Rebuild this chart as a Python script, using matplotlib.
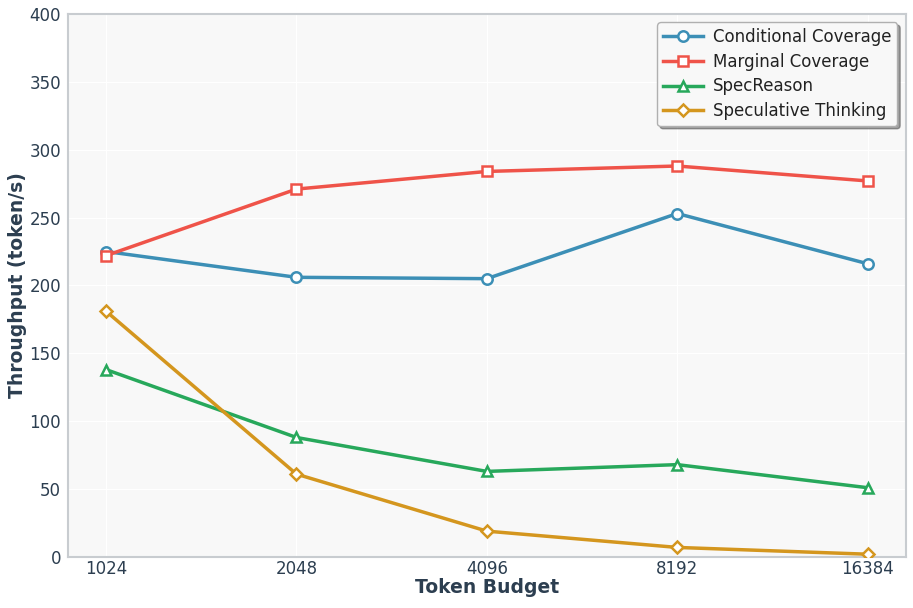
import matplotlib.pyplot as plt
import numpy as np

plt.rcParams['font.family'] = 'DejaVu Sans'

# data
budgets = ['1024', '2048', '4096', '8192', '16384']
conditional = [225, 206, 205, 253, 216]
marginal = [222, 271, 284, 288, 277]
spec_reason = [138, 88, 63, 68, 51]
spec_thinking = [181, 61, 19, 7, 2]

series = [
    ('Conditional Coverage', conditional, '#3c8fb6', 'o'),
    ('Marginal Coverage', marginal, '#ef5349', 's'),
    ('SpecReason', spec_reason, '#27a85b', '^'),
    ('Speculative Thinking', spec_thinking, '#d4961e', 'D'),
]

text_color = '#2c3e50'

fig = plt.figure(figsize=(9.13, 6.08), dpi=100)
ax = fig.add_axes([0.0745, 0.084, 0.9175, 0.893])
ax.set_facecolor('#f8f8f8')

x = np.arange(len(budgets))
for label, vals, color, marker in series:
    ms = 6.5 if marker == 'D' else 7.5
    ax.plot(x, vals, color=color, linewidth=2.5, marker=marker, markersize=ms,
            markerfacecolor='white', markeredgecolor=color, markeredgewidth=1.8,
            label=label, zorder=3)

ax.set_xlim(-0.2, 4.2)
ax.set_ylim(0, 400)
ax.set_xticks(x)
ax.set_xticklabels(budgets)
ax.set_yticks(np.arange(0, 401, 50))
ax.tick_params(labelsize=12, labelcolor=text_color, length=0)
ax.tick_params(axis='x', pad=2)
ax.tick_params(axis='y', pad=5)

ax.grid(True, color='white', linewidth=0.8)
ax.set_axisbelow(True)
for s in ax.spines.values():
    s.set_color('#c8ccd0')
    s.set_linewidth(1.5)

ax.set_xlabel('Token Budget', fontsize=13.5, fontweight='bold', color=text_color, labelpad=0)
ax.set_ylabel('Throughput (token/s)', fontsize=13.5, fontweight='bold', color=text_color, labelpad=2)

leg = ax.legend(loc='upper right', fontsize=12, frameon=True, fancybox=True,
                shadow=True, borderpad=0.35, labelspacing=0.4, handlelength=2.4,
                handletextpad=0.6, borderaxespad=0.5)
leg.get_frame().set_facecolor('#f8f8f8')
leg.get_frame().set_edgecolor('#b0b0b0')
for t in leg.get_texts():
    t.set_color('#222222')

fig.savefig('out.png', dpi=100)
